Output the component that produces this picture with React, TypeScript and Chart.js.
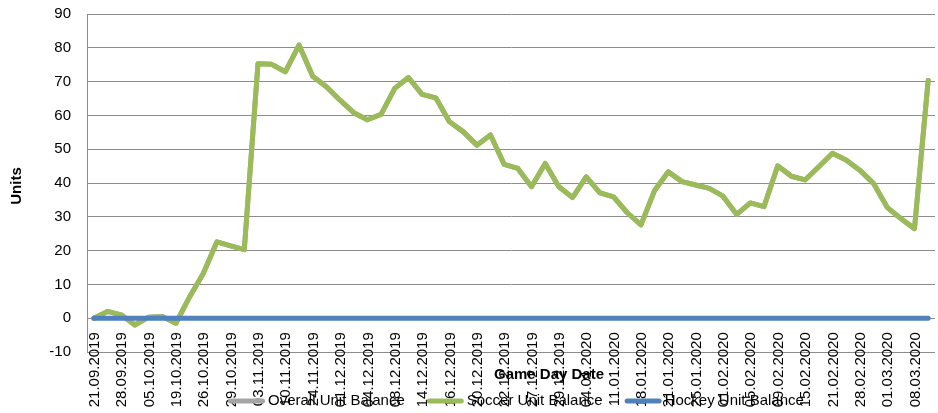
import React, { useEffect, useRef } from "react";
import { Chart, registerables } from "chart.js";

Chart.register(...registerables);

const gameDates = [
  "21.09.2019", "24.09.2019", "28.09.2019", "01.10.2019", "05.10.2019", "12.10.2019",
  "19.10.2019", "23.10.2019", "26.10.2019", "27.10.2019", "29.10.2019", "31.10.2019",
  "03.11.2019", "09.11.2019", "10.11.2019", "23.11.2019", "24.11.2019", "30.11.2019",
  "01.12.2019", "03.12.2019", "04.12.2019", "07.12.2019", "08.12.2019", "11.12.2019",
  "14.12.2019", "15.12.2019", "16.12.2019", "18.12.2019", "20.12.2019", "21.12.2019",
  "22.12.2019", "26.12.2019", "27.12.2019", "28.12.2019", "29.12.2019", "31.12.2019",
  "04.01.2020", "08.01.2020", "11.01.2020", "15.01.2020", "18.01.2020", "19.01.2020",
  "21.01.2020", "22.01.2020", "25.01.2020", "29.01.2020", "01.02.2020", "02.02.2020",
  "05.02.2020", "08.02.2020", "09.02.2020", "12.02.2020", "15.02.2020", "19.02.2020",
  "21.02.2020", "22.02.2020", "28.02.2020", "29.02.2020", "01.03.2020", "07.03.2020",
  "08.03.2020", "10.03.2020",
];

const labelEvery = 2;

const overallUnits = [
  0, 2.0, 1.0, -2.0, 0.3, 0.5, -1.5, 6.3, 13.2, 22.6, 21.4, 20.3,
  75.3, 75.1, 72.9, 80.8, 71.6, 68.5, 64.5, 60.8, 58.7, 60.3, 68.0, 71.2,
  66.2, 65.2, 58.1, 55.2, 51.2, 54.2, 45.5, 44.3, 38.9, 45.8, 38.9, 35.7,
  41.8, 37.1, 35.9, 31.2, 27.6, 37.8, 43.3, 40.4, 39.4, 38.4, 36.1, 30.7,
  34.1, 33.0, 45.1, 42.0, 40.9, 44.8, 48.8, 46.8, 43.8, 39.9, 32.8, 29.5,
  26.5, 70.3,
];

const soccerUnits = [
  0, 2.0, 1.0, -2.0, 0.3, 0.5, -1.5, 6.3, 13.2, 22.6, 21.4, 20.3,
  75.3, 75.1, 72.9, 80.8, 71.6, 68.5, 64.5, 60.8, 58.7, 60.3, 68.0, 71.2,
  66.2, 65.2, 58.1, 55.2, 51.2, 54.2, 45.5, 44.3, 38.9, 45.8, 38.9, 35.7,
  41.8, 37.1, 35.9, 31.2, 27.6, 37.8, 43.3, 40.4, 39.4, 38.4, 36.1, 30.7,
  34.1, 33.0, 45.1, 42.0, 40.9, 44.8, 48.8, 46.8, 43.8, 39.9, 32.8, 29.5,
  26.5, 70.3,
];

const hockeyUnits = [
  0, 0, 0, 0, 0, 0, 0, 0, 0, 0, 0, 0,
  0, 0, 0, 0, 0, 0, 0, 0, 0, 0, 0, 0,
  0, 0, 0, 0, 0, 0, 0, 0, 0, 0, 0, 0,
  0, 0, 0, 0, 0, 0, 0, 0, 0, 0, 0, 0,
  0, 0, 0, 0, 0, 0, 0, 0, 0, 0, 0, 0,
  0, 0,
];

const seriesNames = ["Overall Unit Balance", "Soccer Unit Balance", "Hockey Unit Balance"];
const seriesColors = ["#A5A5A5", "#9BBB59", "#4F81BD"];
const yMin = -10;
const yMax = 90;
const yStep = 10;
const xTitle = "Game Day Date";
const yTitle = "Units";

const FONT = '"Liberation Sans", Arial, sans-serif';

const overlayPlugin = {
  id: "excelOverlay",
  afterDraw(chart: any) {
    const { ctx } = chart;
    const x = chart.scales.x;
    const y = chart.scales.y;
    ctx.save();
    ctx.fillStyle = "#000";
    // category labels, placed below the 0 line as in the original
    ctx.font = `15px ${FONT}`;
    const labelTop = y.getPixelForValue(0) + 14;
    gameDates.forEach((d, i) => {
      if (i % labelEvery !== 0) return;
      const px = x.getPixelForValue(i);
      ctx.save();
      ctx.translate(px + 1, labelTop);
      ctx.rotate(-Math.PI / 2);
      ctx.textAlign = "right";
      ctx.textBaseline = "middle";
      ctx.fillText(d, 0, 0);
      ctx.restore();
    });
    // axis titles
    ctx.font = `bold 15px ${FONT}`;
    ctx.textAlign = "center";
    ctx.textBaseline = "middle";
    ctx.fillText(xTitle, 549, 375);
    ctx.save();
    ctx.translate(17, 186);
    ctx.rotate(-Math.PI / 2);
    ctx.fillText(yTitle, 0, 0);
    ctx.restore();
    // legend
    ctx.font = `15px ${FONT}`;
    ctx.textAlign = "left";
    let lx = 228;
    const ly = 401;
    chart.data.datasets.forEach((ds: any) => {
      ctx.beginPath();
      ctx.strokeStyle = ds.borderColor;
      ctx.lineWidth = 5;
      ctx.lineCap = "round";
      ctx.moveTo(lx + 2.5, ly);
      ctx.lineTo(lx + 34.5, ly);
      ctx.stroke();
      ctx.fillStyle = "#000";
      ctx.fillText(ds.label, lx + 40, ly);
      lx += 40 + ctx.measureText(ds.label).width + 22;
    });
    ctx.restore();
  },
};

export default function App() {
  const canvasRef = useRef<HTMLCanvasElement | null>(null);

  useEffect(() => {
    document.body.style.margin = "0";
    const canvas = canvasRef.current;
    if (!canvas) return;
    const mk = (i: number, data: number[], order: number) => ({
      label: seriesNames[i],
      data,
      borderColor: seriesColors[i],
      backgroundColor: seriesColors[i],
      borderWidth: 5,
      borderCapStyle: "round" as const,
      borderJoinStyle: "round" as const,
      pointRadius: 0,
      tension: 0,
      order,
    });
    const chart = new Chart(canvas, {
      type: "line",
      data: {
        labels: gameDates,
        datasets: [mk(0, overallUnits, 3), mk(1, soccerUnits, 2), mk(2, hockeyUnits, 1)],
      },
      options: {
        animation: false,
        responsive: false,
        devicePixelRatio: 1,
        layout: { padding: { left: 8, right: 3, top: 14, bottom: 0 } },
        plugins: { legend: { display: false }, tooltip: { enabled: false } },
        scales: {
          x: {
            type: "category",
            offset: true,
            ticks: { display: false },
            grid: { display: false },
            border: { display: false },
            afterFit: (s: any) => {
              s.height = 61;
              s.paddingLeft = 0;
              s.paddingRight = 0;
            },
          },
          y: {
            min: yMin,
            max: yMax,
            ticks: {
              stepSize: yStep,
              color: "#000",
              padding: 16,
              font: { family: FONT, size: 15 },
            },
            grid: { color: "#8C8C8C", lineWidth: 1, drawTicks: false },
            border: { display: true, color: "#8C8C8C", width: 1 },
            afterFit: (s: any) => {
              s.width = 79;
              s.paddingTop = 0;
              s.paddingBottom = 0;
            },
          },
        },
      },
      plugins: [overlayPlugin],
    });
    return () => chart.destroy();
  }, []);

  return (
    <div style={{ width: 938, height: 413 }}>
      <canvas ref={canvasRef} width={938} height={413} style={{ display: "block", width: 938, height: 413 }} />
    </div>
  );
}
